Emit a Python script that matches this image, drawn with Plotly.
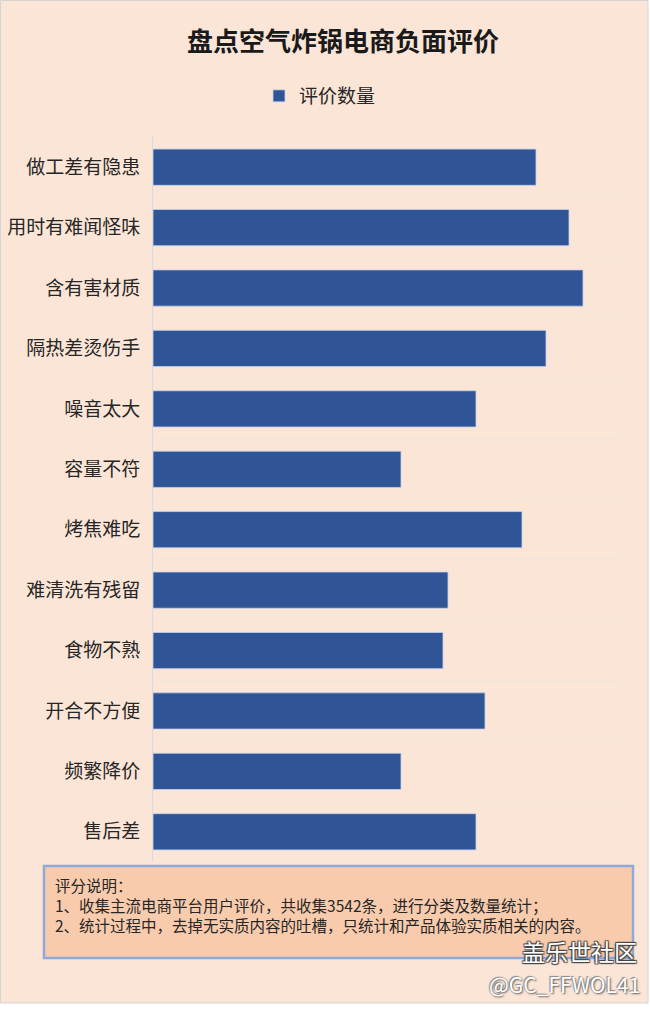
import plotly.graph_objects as go

# ---------------- data ----------------
categories = ["做工差有隐患", "用时有难闻怪味", "含有害材质", "隔热差烫伤手", "噪音太大", "容量不符",
              "烤焦难吃", "难清洗有残留", "食物不熟", "开合不方便", "频繁降价", "售后差"]
counts = [383, 416, 430, 393, 323, 248, 369, 295, 290, 332, 248, 323]
series_name = "评价数量"
title_text = "盘点空气炸锅电商负面评价"
note_lines = ["评分说明：",
              "1、收集主流电商平台用户评价，共收集3542条，进行分类及数量统计；",
              "2、统计过程中，去掉无实质内容的吐槽，只统计和产品体验实质相关的内容。"]
watermark1 = "盖乐世社区"
watermark2 = "@GC_FFWOL41"

# ---------------- layout geometry ----------------
W, H = 650, 1014
L, R, T, B = 153, 30, 137, 152
PW, PH = W - L - R, H - T - B

def px(x):
    return (x - L) / PW

def py(y):
    return (H - B - y) / PH

BG = "#FBE5D6"
BAR = "#2F5597"
FONT = "Noto Sans CJK SC"

fig = go.Figure()
fig.add_trace(go.Bar(
    y=categories, x=counts, orientation="h", name=series_name,
    marker=dict(color=BAR, line=dict(color="rgba(200,210,235,0.8)", width=1)),
    width=0.6, showlegend=True,
))

shapes = [
    # whole-chart background with thin grey border
    dict(type="rect", xref="paper", yref="paper", layer="below",
         x0=px(0.5), x1=px(648), y0=py(1003), y1=py(0.5),
         fillcolor=BG, line=dict(color="#D4D4D4", width=1)),
    # note box
    dict(type="rect", xref="paper", yref="paper", layer="above",
         x0=px(44), x1=px(633), y0=py(958), y1=py(866),
         fillcolor="#F8CBAD", line=dict(color="#8EAADB", width=2.5)),
]

annotations = [dict(
    text="<br>".join(note_lines), xref="paper", yref="paper", x=px(53), y=py(872),
    xanchor="left", yanchor="top", showarrow=False, align="left",
    font=dict(family=FONT, size=15.5, color="#262626"))]

annotations.append(dict(
    text=watermark1, xref="paper", yref="paper", x=px(638), y=py(951),
    xanchor="right", yanchor="middle", showarrow=False, borderpad=0,
    font=dict(family=FONT, size=23, color="#FFFFFF",
              shadow="1px 1px 1px #444, -1px -1px 1px #444, 1px -1px 1px #444, -1px 1px 1px #444")))
annotations.append(dict(
    text=watermark2, xref="paper", yref="paper", x=px(641), y=py(984),
    xanchor="right", yanchor="middle", showarrow=False, borderpad=0,
    font=dict(family=FONT, size=21, color="#FFFFFF",
              shadow="1px 1px 2px #555, -1px -1px 1px #888")))

fig.update_layout(
    width=W, height=H,
    margin=dict(l=L, r=R, t=T, b=B, autoexpand=False),
    paper_bgcolor="#FFFFFF", plot_bgcolor="rgba(0,0,0,0)",
    title=dict(text="<b>" + title_text + "</b>", x=343 / W, y=1 - 42 / H,
               xanchor="center", yanchor="middle", xref="container", yref="container",
               font=dict(family=FONT, size=26, color="#1A1A1A")),
    legend=dict(orientation="h", x=px(320), y=py(96), xanchor="center", yanchor="middle",
                bgcolor="rgba(0,0,0,0)", font=dict(family=FONT, size=19, color="#262626"),
                itemwidth=30),
    xaxis=dict(range=[0, PW], visible=False, showgrid=False, zeroline=False, fixedrange=True),
    yaxis=dict(categoryorder="array", categoryarray=categories, autorange="reversed",
               tickson="boundaries", showgrid=True, gridcolor="#F1E4DC", gridwidth=1,
               showline=True, linecolor="#D9D9E3", linewidth=1, ticks="",
               ticklabelstandoff=8, fixedrange=True,
               tickfont=dict(family=FONT, size=19, color="#262626")),
    shapes=shapes, annotations=annotations,
    bargap=0.4,
)

fig.write_html("out.html", config={"displayModeBar": False},
               post_script="document.body.style.margin='0';document.body.style.overflow='hidden';")
